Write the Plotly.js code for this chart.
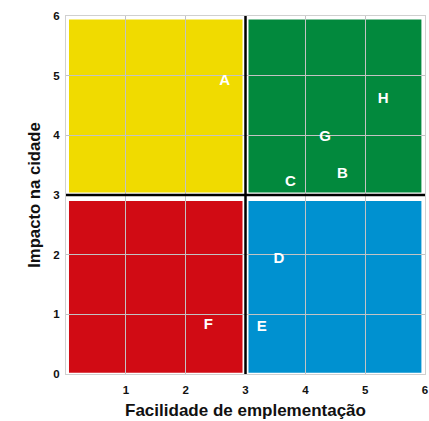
<!DOCTYPE html>
<html>
<head>
<meta charset="utf-8">
<script src="https://cdn.plot.ly/plotly-3.0.1.min.js"></script>
<style>
  body { margin: 0; background: #fff; }
  #plot { width: 429px; height: 421px; }
</style>
</head>
<body>
<div id="plot"></div>
<script>
// projects: ease of implementation (x) vs impact on the city (y)
var labels = ['A', 'B', 'C', 'D', 'E', 'F', 'G', 'H'];
var facilidade = [2.65, 4.62, 3.75, 3.56, 3.27, 2.38, 4.33, 5.30];
var impacto = [4.90, 3.34, 3.22, 1.92, 0.78, 0.81, 3.96, 4.61];

// quadrants (yellow, green, red, blue)
var quadX0 = [0.05, 3.05, 0.05, 3.05];
var quadX1 = [2.95, 5.94, 2.95, 5.94];
var quadY0 = [3.04, 3.04, 0.02, 0.02];
var quadY1 = [5.94, 5.94, 2.90, 2.90];
var quadColors = ['rgb(240,219,0)', 'rgb(2,137,61)', 'rgb(209,11,20)', 'rgb(0,145,208)'];

var ticksX = [1, 2, 3, 4, 5, 6];
var ticksY = [0, 1, 2, 3, 4, 5, 6];
var divider = 3;

var shapes = [];
for (var i = 0; i < quadX0.length; i++) {
    shapes.push({
        type: 'rect', xref: 'x', yref: 'y', layer: 'below',
        x0: quadX0[i], x1: quadX1[i], y0: quadY0[i], y1: quadY1[i],
        fillcolor: quadColors[i], line: { width: 0 }
    });
}
// black divider lines
shapes.push({ type: 'line', xref: 'x', yref: 'y', x0: divider, x1: divider, y0: 0, y1: 6,
    line: { color: '#000', width: 2.5 } });
shapes.push({ type: 'line', xref: 'x', yref: 'y', x0: 0, x1: 6, y0: divider, y1: divider,
    line: { color: '#000', width: 2.5 } });

var trace = {
    x: facilidade,
    y: impacto,
    text: labels,
    mode: 'text',
    type: 'scatter',
    textfont: { family: 'Liberation Sans, Arial, sans-serif', size: 15, color: '#fff', weight: 'bold' },
    hoverinfo: 'none'
};

var font = { family: 'Liberation Sans, Arial, sans-serif', color: '#111' };

var layout = {
    width: 429,
    height: 421,
    margin: { l: 66, r: 4, t: 16, b: 47, pad: 0 },
    paper_bgcolor: '#fff',
    plot_bgcolor: '#fff',
    showlegend: false,
    font: font,
    xaxis: {
        range: [0, 6],
        tickvals: ticksX,
        ticks: '',
        ticklabelstandoff: 5,
        showgrid: true,
        gridcolor: 'rgb(195,195,195)',
        gridwidth: 1,
        zeroline: false,
        showline: true,
        mirror: true,
        linecolor: '#d0d0d0',
        linewidth: 1,
        tickfont: { family: font.family, size: 11.5, color: '#111', weight: 'bold' },
        title: { text: 'Facilidade de emplementação', standoff: 9,
            font: { family: font.family, size: 17, color: '#111', weight: 'bold' } }
    },
    yaxis: {
        range: [0, 6],
        tickvals: ticksY,
        ticks: '',
        ticklabelstandoff: 3,
        showgrid: true,
        gridcolor: 'rgb(195,195,195)',
        gridwidth: 1,
        zeroline: false,
        showline: true,
        mirror: true,
        linecolor: '#d0d0d0',
        linewidth: 1,
        tickfont: { family: font.family, size: 11.5, color: '#111', weight: 'bold' },
        title: { text: 'Impacto na cidade', standoff: 8,
            font: { family: font.family, size: 16.7, color: '#111', weight: 'bold' } }
    },
    shapes: shapes
};

Plotly.newPlot('plot', [trace], layout, { displayModeBar: false, staticPlot: true });
</script>
</body>
</html>
